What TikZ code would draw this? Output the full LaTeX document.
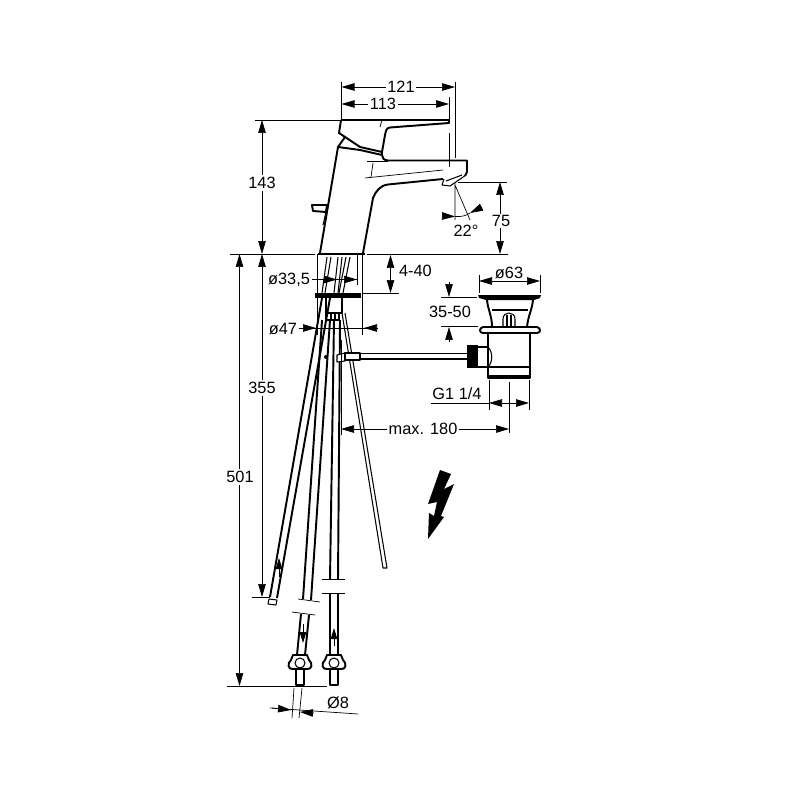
\documentclass[tikz,border=0pt]{standalone}
\usepackage{fontspec}
\setmainfont{Liberation Sans}
\usetikzlibrary{arrows.meta}
\tikzset{
  outline/.style={line width=0.6pt, line join=round},
  heavy/.style={line width=1.1pt, line join=round},
  extline/.style={line width=0.4pt},
  dimline/.style={line width=0.4pt, {Triangle[length=0.26cm,width=0.15cm]}-{Triangle[length=0.26cm,width=0.15cm]}},
  dimout/.style={line width=0.4pt, -{Triangle[length=0.26cm,width=0.15cm]}},
  flow/.style={line width=0.5pt, -{Triangle[length=0.22cm,width=0.13cm]}},
  dimtext/.style={font=\fontsize{9.3pt}{10pt}\selectfont, fill=white, inner sep=1pt},
}
\begin{document}
\begin{tikzpicture}[x=0.02cm, y=-0.02cm]
  \useasboundingbox (0,0) rectangle (800,800); % same size as the reference

  % mixer body
  \draw[heavy] (341,120)--(449,120)--(449,123)--(390,127.5) .. controls (386,128) and (386,131) .. (385,135)--(382,152)--(382,155) .. controls (382,158) and (384,160.5) .. (388,160.5)--(467,160.5)--(467,172)--(465,176); % lever and spout top
  \draw[heavy] (341,120)--(339,133)--(345,137)--(360,147)--(382,152); % lever lower edge
  \draw[heavy] (338,147)--(360,150)--(382,155); % lever seat
  \draw[heavy] (345,137)--(338,147)--(320,253); % body left
  \draw[heavy] (443,179)--(388,184.5) .. controls (380,185.5) and (376,191) .. (373,198)--(363,253); % body right
  \draw[heavy] (318,254)--(365,254); % base
  \draw[extline] (382,120)--(380,127);
  \draw[extline] (367,161)--(388,161);
  \draw[extline] (373,163)--(371,177);
  \draw[extline] (365,178)--(443,170);
  \draw[outline] (444,179)--(442,185)--(450,186)--(466,175); % aerator
  \draw[outline] (446,181)--(462,175);
  \draw[heavy] (312,205)--(327,205)--(326,212)--(313,211)--cycle; % pop-up knob
  \draw[outline] (326,212)--(323,225);

  % tails between base and plate
  \draw[outline] (327,257)--(322,293) (331,257)--(325,293);
  \draw[outline] (338,257)--(334,293) (342,257)--(338,293);
  \draw[outline] (350,257)--(343,293) (346,257)--(339,293);
  \fill (315,293) rectangle (361,298); % plate
  \draw[outline] (326,298)--(326,313)--(342,313)--(342,298); % adapter
  \draw[outline,fill=white] (326,313) rectangle (339,320);
  \draw[outline] (331,313)--(331,320) (335,313)--(335,320);

  % hoses
  \draw[heavy] (322,298)--(270,597) (330,298)--(277,598); % left hose
  \draw[outline] (269,599)--(277,600)--(276,605)--(268,604)--cycle;
  \draw[heavy] (322,320)--(303,599) (330,320)--(311,600); % middle hose upper
  \draw[heavy] (301,614)--(297,655) (309,615)--(305,655); % middle hose lower
  \draw[heavy] (334,320)--(330,579) (340,320)--(338,579); % right hose upper
  \draw[heavy] (330,593)--(330,656) (338,593)--(338,656); % right hose lower
  \draw[outline] (342,313)--(383,568)--(387,568)--(345,313); % lift rod
  \draw[extline] (298,599)--(320,602) (292,612)--(315,615); % break marks
  \draw[extline] (322,579)--(345,579) (322,593)--(345,593);
  \draw[flow] (279,577)--(279,558);
  \draw[flow] (303,624)--(303,643);
  \draw[flow] (334,646)--(334,628);
  \foreach \cx/\cy in {300/663,334/663}{ % nuts
    \begin{scope}[shift={(\cx,\cy)}]
      \draw[heavy] (-7,-8)--(7,-8)--(9,-3) .. controls (13,0) and (12,7) .. (7,6)--(-7,6) .. controls (-12,7) and (-13,0) .. (-9,-3)--cycle;
      \draw[outline] (0,0) circle (5);
      \draw[heavy] (-4,7)--(-4,22)--(4,22)--(4,7);
    \end{scope}
  }

  % connection and drain pipe
  \fill (326,357) circle (2);
  \draw[outline,fill=white] (337,355)--(345,353)--(345,361)--(337,362)--cycle;
  \draw[heavy,fill=white] (345,353) rectangle (360,360);
  \draw[heavy] (360,353.5)--(467,353.5) (360,359)--(467,359);

  % waste set
  \fill (467,345) rectangle (478,368);
  \draw[heavy] (478,347)--(488,347) (478,367)--(488,367);
  \draw[outline] (488,347) .. controls (493,352) and (493,362) .. (488,367);
  \fill (478,295)--(541,295)--(540,298)--(534,300)--(486,300)--(479,298)--cycle; % plug
  \draw[heavy] (487,300) .. controls (488,310) and (492,316) .. (492,327);
  \draw[heavy] (533,300) .. controls (532,310) and (528,316) .. (527,327);
  \draw[outline] (492,310)--(528,310);
  \draw[outline] (503,327)--(503,319) .. controls (503,311) and (515,311) .. (515,319)--(515,327);
  \draw[outline] (507,315)--(507,327) (511,315)--(511,327);
  \draw[heavy,fill=white] (483,327)--(537,327) .. controls (541,328) and (541,333) .. (537,333)--(483,333) .. controls (479,333) and (479,328) .. (483,327)--cycle; % flange
  \draw[heavy] (488,333)--(488,378)--(530,378)--(530,333); % body
  \draw[outline] (488,367)--(530,367);
  \draw[line width=1.1pt] (488,376)--(530,376);

  % bolt
  \fill (440,470)--(451,474)--(444,489)--(454,484)--(441,516)--(444,517)--(428,539)--(429,513)--(434,516)--(437,502)--(428,504)--cycle;

  % extension lines
  \draw[extline] (341.5,82)--(341.5,120);
  \draw[extline] (455,82)--(455,158);
  \draw[extline] (449,97)--(449,123) (449,133)--(449,167);
  \draw[extline] (255,120)--(340,120);
  \draw[extline] (230,254)--(315,254) (367,254)--(508,254);
  \draw[extline] (458,182)--(507,182);
  \draw[extline] (455,183)--(455,220) (455,185)--(470,220);
  \draw[extline] (252,597)--(270,597);
  \draw[extline] (227,686)--(327,686);
  \draw[extline] (317.5,254)--(317.5,335) (357,254)--(357,285) (362.5,254)--(362.5,335);
  \draw[extline] (362,293)--(399,293);
  \draw[extline] (479,275)--(479,293) (540,275)--(540,293);
  \draw[extline] (441,297)--(477,297) (441,326)--(478,326);
  \draw[extline] (489,380)--(489,410) (529,380)--(529,410);
  \draw[extline] (509,382)--(509,433) (341,340)--(341,435);
  \draw[extline] (294,688)--(292,718) (302,688)--(299,718);

  % dimensions
  \draw[dimline] (341.5,87)--(455,87) node[dimtext] (d121) at (401,87) {121};
  \draw[dimline] (341.5,104)--(449,104) node[dimtext] (d113) at (383,104) {113};
  \draw[dimline] (262,120)--(262,254) node[dimtext] (d143) at (262,183) {143};
  \draw[dimline] (500,182)--(500,254) node[dimtext] (d75) at (501,221) {75};
  \draw[dimline] (262,254)--(262,597) node[dimtext] (d355) at (262,388) {355};
  \draw[dimline] (239.5,254)--(239.5,686) node[dimtext] (d501) at (240,477) {501};
  \draw[dimline] (390.5,255)--(390.5,293) node[dimtext,anchor=west] (d440) at (397,271) {4-40};
  \draw[extline] (312,279.5)--(357,279.5);
  \draw[dimout] (320,279.5)--(337,279.5);
  \draw[dimout] (345,279.5)--(357,279.5);
  \node[dimtext] (d335) at (289,280) {ø33,5};
  \draw[extline] (297,328)--(378,328);
  \draw[dimout] (299,328)--(316,328);
  \draw[dimout] (378,328)--(364,328);
  \node[dimtext] (d47) at (283,329) {ø47};
  \draw[dimline] (479,281)--(540,281) node[dimtext] (d63) at (509,273) {ø63};
  \draw[dimout] (449,282)--(449,297);
  \draw[dimout] (449,342)--(449,327);
  \node[dimtext] (d3550) at (450,312) {35-50};
  \draw[extline] (431,403)--(489,403);
  \draw[dimline] (489,403)--(529,403);
  \node[dimtext,fill=none] (dg) at (457,394) {G1 1/4};
  \draw[dimline] (341,429)--(509,429) node[dimtext] (d180) at (423,429) {max. 180};

  % angle and tube size
  \draw[dimout] (442,216)--(455,216.5);
  \draw[extline] (455,216.5) .. controls (460,217) and (466,216) .. (470,213);
  \draw[dimout] (482,207)--(470,213);
  \node[dimtext,fill=none] (d22) at (466,231) {22°};
  \draw[extline] (270,708)--(358,714);
  \draw[dimout] (272,708)--(291,710);
  \draw[dimout] (314,713)--(300,712);
  \node[dimtext,fill=none] (d8) at (338,703) {Ø8};
\end{tikzpicture}
\end{document}
